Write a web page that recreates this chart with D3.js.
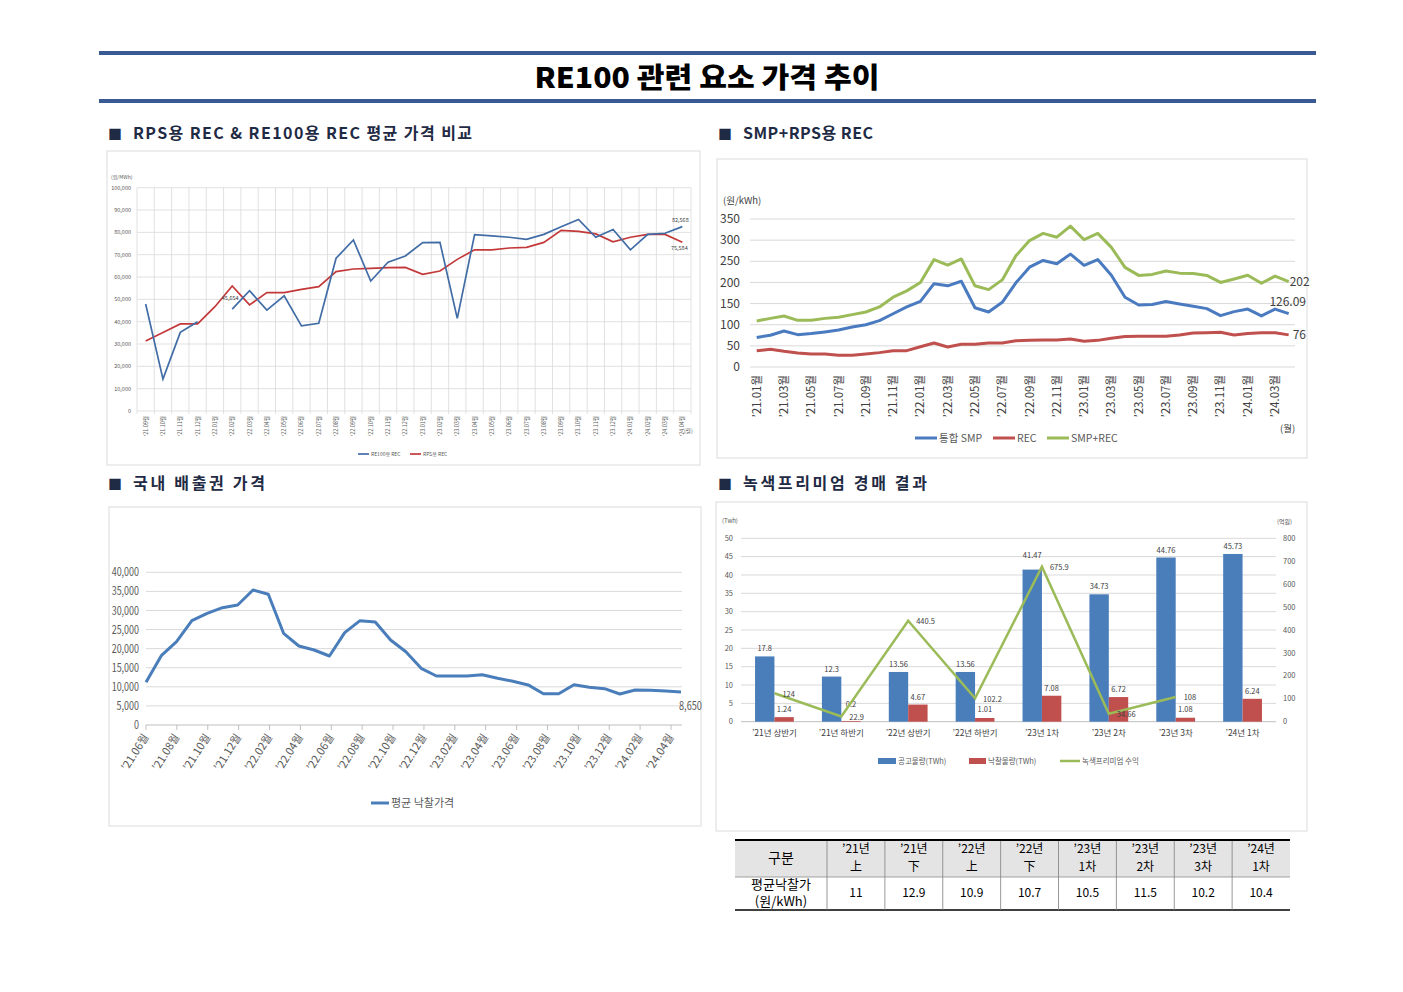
<!DOCTYPE html>
<html>
<head>
<meta charset="utf-8">
<script src="https://cdn.jsdelivr.net/npm/d3@7"></script>
<style>
body { margin: 0; background: #fff; }
svg text { font-family: 'Noto Sans CJK KR', 'Noto Sans', sans-serif; }
</style>
</head>
<body>
<svg id="page" width="1403" height="992"></svg>
<script>
// ---- RPS용 REC & RE100용 REC (원/MWh)
const A_MONTHS = ["’21.09","’21.10","’21.11","’21.12","’22.01","’22.02","’22.03","’22.04","’22.05","’22.06","’22.07","’22.08",
    "’22.09","’22.10","’22.11","’22.12","’23.01","’23.02","’23.03","’23.04","’23.05","’23.06","’23.07","’23.08",
    "’23.09","’23.10","’23.11","’23.12","’24.01","’24.02","’24.03","’24.04"]
const A_RE100 = [47900, 14300, 35200, 40000, null, 45654, 53900, 45200, 51600, 38100, 39300, 68400,
    76600, 58200, 66600, 69400, 75400, 75500, 41500, 79000, 78400, 77800, 76900, 79100,
    82500, 85800, 77800, 81300, 72200, 79100, 79600, 82568]
const A_RPS = [31300, 35200, 39000, 39000, 46700, 56000, 47500, 53000, 53000, 54500, 55700, 62400,
    63600, 63900, 64200, 64300, 61200, 62700, 67900, 72200, 72200, 73000, 73300, 75500,
    80900, 80400, 79300, 75800, 77800, 79100, 79100, 75584]

// ---- SMP + RPS용 REC (원/kWh)
const B_MONTHS = ["’21.01","’21.02","’21.03","’21.04","’21.05","’21.06","’21.07","’21.08","’21.09","’21.10","’21.11","’21.12",
    "’22.01","’22.02","’22.03","’22.04","’22.05","’22.06","’22.07","’22.08","’22.09","’22.10","’22.11","’22.12",
    "’23.01","’23.02","’23.03","’23.04","’23.05","’23.06","’23.07","’23.08","’23.09","’23.10","’23.11","’23.12",
    "’24.01","’24.02","’24.03","’24.04"]
const B_SMP = [70, 75, 85, 76.5, 79, 83, 87.5, 94.6, 100, 109.6, 126, 142,
    155, 197, 192, 202.7, 140, 130, 153, 199, 236, 252, 244, 267,
    240.5, 254, 217, 165, 146.7, 148, 155, 149, 143.5, 138, 121.5, 131,
    137, 120.7, 137, 126.09]
const B_REC = [38.6, 41.8, 37, 33, 30.8, 30.8, 27.6, 27.6, 30.8, 34, 38.6, 38.6,
    48, 56.8, 47.3, 53.6, 53.6, 56.8, 56.8, 62, 63, 64, 64, 66,
    61, 63, 68, 72, 72.5, 72.5, 73, 75.7, 80.4, 81, 82, 75.7,
    79, 81, 81, 76]
const B_SUM = [108.8, 115, 120.7, 110.4, 110.4, 115, 117.5, 123.8, 130, 142, 165, 180,
    200, 254, 241, 255.5, 192, 183, 206, 263, 299, 316, 307, 333,
    301, 316, 283, 235.5, 216.6, 219, 227, 222, 221, 216.6, 200, 208,
    217, 198, 215, 202]

// ---- 국내 배출권 가격 (월별 평균 낙찰가격)
const C_PRICE = [11180, 18160, 21830, 27330, 29260, 30740, 31440, 35370, 34240, 24020, 20700, 19650,
    18080, 24180, 27330, 26990, 22270, 19200, 14850, 12840, 12840, 12840, 13180, 12230,
    11450, 10500, 8200, 8200, 10560, 9880, 9510, 8120, 9170, 9090, 8900, 8650]
const C_TICKS = ["’21.06월","’21.08월","’21.10월","’21.12월","’22.02월","’22.04월","’22.06월","’22.08월","’22.10월",
    "’22.12월","’23.02월","’23.04월","’23.06월","’23.08월","’23.10월","’23.12월","’24.02월","’24.04월"]

// ---- 녹색프리미엄 경매 결과
const D_ROUNDS = ["’21년 상반기","’21년 하반기","’22년 상반기","’22년 하반기","’23년 1차","’23년 2차","’23년 3차","’24년 1차"]
const D_OFFER = [17.8, 12.3, 13.56, 13.56, 41.47, 34.73, 44.76, 45.73]
const D_WON = [1.24, 0.2, 4.67, 1.01, 7.08, 6.72, 1.08, 6.24]
const D_REVENUE = [124, 22.9, 440.5, 102.2, 675.9, 34.66, 108, null]

// ---- 평균낙찰가 표
const T_HEAD1 = ["’21년","’21년","’22년","’22년","’23년","’23년","’23년","’24년"]
const T_HEAD2 = ["上","下","上","下","1차","2차","3차","1차"]
const T_VALUES = [11, 12.9, 10.9, 10.7, 10.5, 11.5, 10.2, 10.4]

const GRID = '#d9d9d9'
const AXIS_TEXT = '#595959'
const NAVY = '#3a5a94'

var svg = d3.select('#page')

function box(x, y, w, h) {
    svg.append('rect')
        .attr('x', x).attr('y', y)
        .attr('width', w).attr('height', h)
        .attr('fill', 'none')
        .attr('stroke', '#dcdcdc')
}

function heading(x, y, label, len) {
    svg.append('text').attr('x', x).attr('y', y)
        .attr('font-size', 14).attr('fill', '#1f2a44').text('■')
    svg.append('text').attr('x', x + 25).attr('y', y)
        .attr('font-size', 16).attr('font-weight', 700).attr('fill', '#1f2a44')
        .attr('textLength', len).attr('lengthAdjust', 'spacing')
        .text(label)
}

function legendLine(g, x, y, w, color, width, label, size) {
    g.append('line').attr('x1', x).attr('x2', x + w).attr('y1', y).attr('y2', y)
        .attr('stroke', color).attr('stroke-width', width)
    g.append('text').attr('x', x + w + 2).attr('y', y).attr('dy', '0.35em')
        .attr('font-size', size).attr('fill', AXIS_TEXT).text(label)
}

function drawTitle() {
    svg.append('rect').attr('x', 99).attr('y', 51).attr('width', 1217).attr('height', 4).attr('fill', NAVY)
    svg.append('rect').attr('x', 99).attr('y', 99).attr('width', 1217).attr('height', 4).attr('fill', NAVY)
    svg.append('text')
        .attr('x', 707).attr('y', 88)
        .attr('text-anchor', 'middle')
        .attr('font-size', 28).attr('font-weight', 900)
        .attr('textLength', 345).attr('lengthAdjust', 'spacingAndGlyphs')
        .text('RE100 관련 요소 가격 추이')

    heading(108, 139, 'RPS용 REC & RE100용 REC 평균 가격 비교', 339)
    heading(718, 139, 'SMP+RPS용 REC', 130)
    heading(108, 489, '국내 배출권 가격', 132)
    heading(718, 489, '녹색프리미엄 경매 결과', 184)
}

function drawRecChart() {
    box(107, 151, 593, 314)
    var g = svg.append('g')
    var x = d3.scaleBand().domain(A_MONTHS).range([137, 691])
    var y = d3.scaleLinear().domain([0, 100000]).range([411, 187.7])
    var cx = d => x(d) + x.bandwidth() / 2

    g.selectAll('.hgrid').data(y.ticks(10)).enter().append('line')
        .attr('x1', 137).attr('x2', 691)
        .attr('y1', d => y(d)).attr('y2', d => y(d))
        .attr('stroke', GRID).attr('stroke-width', 0.8)
    g.selectAll('.vgrid').data(A_MONTHS.concat([null])).enter().append('line')
        .attr('x1', d => d ? x(d) : 691).attr('x2', d => d ? x(d) : 691)
        .attr('y1', y(100000)).attr('y2', y(0) + 3)
        .attr('stroke', GRID).attr('stroke-width', 0.8)

    g.selectAll('.ylab').data(y.ticks(10)).enter().append('text')
        .attr('x', 131).attr('y', d => y(d)).attr('dy', '0.35em')
        .attr('text-anchor', 'end').attr('font-size', 5.5).attr('fill', AXIS_TEXT)
        .text(d3.format(','))
    g.append('text').attr('x', 111).attr('y', 179).attr('font-size', 5).attr('fill', AXIS_TEXT).text('(원/MWh)')

    g.selectAll('.xlab').data(A_MONTHS).enter().append('text')
        .attr('transform', d => 'translate(' + (cx(d) + 2) + ',416) rotate(-90)')
        .attr('text-anchor', 'end').attr('font-size', 5.5).attr('fill', AXIS_TEXT)
        .text(d => d + '월')
    g.append('text').attr('x', 684).attr('y', 433).attr('font-size', 5.5).attr('fill', AXIS_TEXT).text('(월)')

    var line = d3.line()
        .defined(d => d.v != null)
        .x(d => cx(d.m)).y(d => y(d.v))
    var series = [
        { values: A_RPS, color: '#c3393a' },
        { values: A_RE100, color: '#416ca6' }
    ]
    series.forEach(s => {
        g.append('path')
            .datum(A_MONTHS.map((m, i) => ({ m: m, v: s.values[i] })))
            .attr('d', line)
            .attr('fill', 'none').attr('stroke', s.color).attr('stroke-width', 1.7)
    })

    var last = A_MONTHS.length - 1
    g.append('text').attr('x', cx(A_MONTHS[5]) - 2).attr('y', y(A_RE100[5]) - 9)
        .attr('text-anchor', 'middle').attr('font-size', 5.5).attr('fill', '#404040')
        .text(d3.format(',')(A_RE100[5]))
    g.append('text').attr('x', cx(A_MONTHS[last]) - 2).attr('y', y(A_RE100[last]) - 5)
        .attr('text-anchor', 'middle').attr('font-size', 5.5).attr('fill', '#404040')
        .text(d3.format(',')(A_RE100[last]))
    g.append('text').attr('x', cx(A_MONTHS[last]) - 3).attr('y', y(A_RPS[last]) + 8)
        .attr('text-anchor', 'middle').attr('font-size', 5.5).attr('fill', '#404040')
        .text(d3.format(',')(A_RPS[last]))

    legendLine(g, 358, 454, 11, '#416ca6', 1.7, 'RE100용 REC', 5)
    legendLine(g, 410, 454, 11, '#c3393a', 1.7, 'RPS용 REC', 5)
}

function drawSmpChart() {
    box(717, 159, 590, 299)
    var g = svg.append('g')
    var x = d3.scalePoint().domain(B_MONTHS).range([756.7, 1288.7])
    var y = d3.scaleLinear().domain([0, 350]).range([367, 219])
    var ticks = d3.range(0, 351, 50)

    g.selectAll('.hgrid').data(ticks).enter().append('line')
        .attr('x1', 750).attr('x2', 1295)
        .attr('y1', d => y(d)).attr('y2', d => y(d))
        .attr('stroke', GRID)
    g.selectAll('.ylab').data(ticks).enter().append('text')
        .attr('x', 740).attr('y', d => y(d)).attr('dy', '0.35em')
        .attr('text-anchor', 'end').attr('font-size', 12).attr('fill', '#404040')
        .text(d => d)
    g.append('text').attr('x', 723).attr('y', 204).attr('font-size', 9.5).attr('fill', '#404040').text('(원/kWh)')

    g.selectAll('.xlab').data(B_MONTHS.filter((m, i) => i % 2 == 0)).enter().append('text')
        .attr('transform', d => 'translate(' + (x(d) + 4) + ',375) rotate(-90)')
        .attr('text-anchor', 'end').attr('font-size', 11.5).attr('fill', '#404040')
        .text(d => d + '월')
    g.append('text').attr('x', 1280).attr('y', 432).attr('font-size', 9.5).attr('fill', '#404040').text('(월)')

    var series = [
        { values: B_SUM, color: '#9bbb59', name: 'SMP+REC' },
        { values: B_SMP, color: '#4a7abf', name: '통합 SMP' },
        { values: B_REC, color: '#c0504d', name: 'REC' }
    ]
    var line = d3.line().x(d => x(d.m)).y(d => y(d.v))
    series.forEach(s => {
        g.append('path')
            .datum(B_MONTHS.map((m, i) => ({ m: m, v: s.values[i] })))
            .attr('d', line)
            .attr('fill', 'none').attr('stroke', s.color).attr('stroke-width', 3)
            .attr('stroke-linejoin', 'round')
    })

    var last = B_MONTHS.length - 1
    var lx = x(B_MONTHS[last])
    g.append('text').attr('x', lx + 1).attr('y', y(B_SUM[last])).attr('dy', '0.38em')
        .attr('font-size', 12).attr('fill', '#404040').text(B_SUM[last])
    g.append('text').attr('x', lx - 1).attr('y', y(B_SMP[last]) - 8)
        .attr('text-anchor', 'middle').attr('font-size', 12).attr('fill', '#404040').text(B_SMP[last])
    g.append('text').attr('x', lx + 4).attr('y', y(B_REC[last])).attr('dy', '0.38em')
        .attr('font-size', 12).attr('fill', '#404040').text(B_REC[last])

    legendLine(g, 915, 438, 22, '#4a7abf', 3, '통합 SMP', 10.5)
    legendLine(g, 993, 438, 22, '#c0504d', 3, 'REC', 10.5)
    legendLine(g, 1047, 438, 22, '#9bbb59', 3, 'SMP+REC', 10.5)
}

function drawCarbonChart() {
    box(109, 507, 592, 319)
    var g = svg.append('g')
    var x = d3.scaleLinear().domain([0, C_PRICE.length - 1]).range([146, 681])
    var xTick = d3.scaleLinear().domain([0, C_TICKS.length - 1]).range([146, 671])
    var y = d3.scaleLinear().domain([0, 40000]).range([725, 572.3])
    var ticks = d3.range(0, 40001, 5000)

    g.selectAll('.hgrid').data(ticks).enter().append('line')
        .attr('x1', 146).attr('x2', 682)
        .attr('y1', d => y(d)).attr('y2', d => y(d))
        .attr('stroke', d => d == 0 ? '#bfbfbf' : GRID)
    // narrow axis numbers, as in the source
    g.selectAll('.ylab').data(ticks).enter().append('text')
        .attr('transform', d => 'translate(139,' + y(d) + ') scale(0.78,1)')
        .attr('dy', '0.35em')
        .attr('text-anchor', 'end').attr('font-size', 11.5).attr('fill', AXIS_TEXT)
        .text(d3.format(','))

    g.selectAll('.tick').data(C_TICKS).enter().append('line')
        .attr('x1', (d, i) => xTick(i)).attr('x2', (d, i) => xTick(i))
        .attr('y1', 725).attr('y2', 730)
        .attr('stroke', '#bfbfbf')
    g.selectAll('.xlab').data(C_TICKS).enter().append('text')
        .attr('transform', (d, i) => 'translate(' + (xTick(i) + 3) + ',737) rotate(-58)')
        .attr('text-anchor', 'end').attr('font-size', 11).attr('fill', AXIS_TEXT)
        .text(d => d)

    g.append('path')
        .datum(C_PRICE)
        .attr('d', d3.line().x((d, i) => x(i)).y(d => y(d)))
        .attr('fill', 'none').attr('stroke', '#4a7ebb').attr('stroke-width', 3)
        .attr('stroke-linejoin', 'round')

    var last = C_PRICE.length - 1
    g.append('text')
        .attr('transform', 'translate(' + (x(last) - 2) + ',' + (y(C_PRICE[last]) + 18) + ') scale(0.8,1)')
        .attr('font-size', 11.5).attr('fill', AXIS_TEXT)
        .text(d3.format(',')(C_PRICE[last]))

    legendLine(g, 371, 803, 18, '#4a7ebb', 3, '평균 낙찰가격', 11)
}

function drawPremiumChart() {
    box(716, 502, 591, 329)
    var g = svg.append('g')
    var x0 = d3.scaleBand().domain(D_ROUNDS).range([741, 1276])
    var bw = x0.bandwidth()
    var x1 = d3.scaleBand().domain(['offer', 'won']).range([bw * 0.21, bw * 0.79])
    var y = d3.scaleLinear().domain([0, 50]).range([721.7, 538.3])
    var y2 = d3.scaleLinear().domain([0, 800]).range([721.7, 538.3])

    g.selectAll('.hgrid').data(d3.range(0, 51, 5)).enter().append('line')
        .attr('x1', 741).attr('x2', 1276)
        .attr('y1', d => y(d)).attr('y2', d => y(d))
        .attr('stroke', d => d == 0 ? '#bfbfbf' : GRID)
    g.selectAll('.ylab').data(d3.range(0, 51, 5)).enter().append('text')
        .attr('x', 733).attr('y', d => y(d)).attr('dy', '0.35em')
        .attr('text-anchor', 'end').attr('font-size', 7.5).attr('fill', AXIS_TEXT)
        .text(d => d)
    g.selectAll('.y2lab').data(d3.range(0, 801, 100)).enter().append('text')
        .attr('x', 1283).attr('y', d => y2(d)).attr('dy', '0.35em')
        .attr('font-size', 7.5).attr('fill', AXIS_TEXT)
        .text(d => d)
    g.append('text').attr('x', 722).attr('y', 523).attr('font-size', 6).attr('fill', AXIS_TEXT).text('(Twh)')
    g.append('text').attr('x', 1277).attr('y', 524).attr('font-size', 6).attr('fill', AXIS_TEXT).text('(억원)')

    g.selectAll('.xlab').data(D_ROUNDS).enter().append('text')
        .attr('x', d => x0(d) + bw / 2).attr('y', 736)
        .attr('text-anchor', 'middle').attr('font-size', 8.5).attr('fill', '#404040')
        .text(d => d)

    // bar value label: above the bar, but lifted clear of a revenue label sitting just below it
    function barLabelY(v, i) {
        var ly = Math.min(y(v) - 5, 712)
        var rv = D_REVENUE[i]
        if (rv != null && y2(rv) > ly - 6) ly = Math.min(ly, y2(rv) - 9)
        return ly
    }

    var bars = [
        { key: 'offer', values: D_OFFER, color: '#4a7ebb' },
        { key: 'won', values: D_WON, color: '#c0504d' }
    ]
    bars.forEach(s => {
        g.selectAll('.bar-' + s.key).data(D_ROUNDS).enter().append('rect')
            .attr('x', d => x0(d) + x1(s.key))
            .attr('y', (d, i) => y(s.values[i]))
            .attr('width', x1.bandwidth())
            .attr('height', (d, i) => y(0) - y(s.values[i]))
            .attr('fill', s.color)
        g.selectAll('.lab-' + s.key).data(D_ROUNDS).enter().append('text')
            .attr('x', d => x0(d) + x1(s.key) + x1.bandwidth() / 2)
            .attr('y', (d, i) => barLabelY(s.values[i], i))
            .attr('text-anchor', 'middle').attr('font-size', 7.5).attr('fill', '#404040')
            .text((d, i) => s.values[i])
    })

    var pts = D_ROUNDS.map((r, i) => ({ r: r, v: D_REVENUE[i] })).filter(d => d.v != null)
    g.append('path')
        .datum(pts)
        .attr('d', d3.line().x(d => x0(d.r) + bw / 2).y(d => y2(d.v)))
        .attr('fill', 'none').attr('stroke', '#9bbb59').attr('stroke-width', 2.5)
    g.selectAll('.revlab').data(pts).enter().append('text')
        .attr('x', d => x0(d.r) + bw / 2 + 8).attr('y', d => y2(d.v)).attr('dy', '0.45em')
        .attr('font-size', 7.5).attr('fill', '#404040')
        .text(d => d.v)

    // legend
    g.append('rect').attr('x', 878).attr('y', 758).attr('width', 18).attr('height', 6).attr('fill', '#4a7ebb')
    g.append('text').attr('x', 898).attr('y', 761).attr('dy', '0.35em').attr('font-size', 7.5).attr('fill', AXIS_TEXT).text('공고물량(TWh)')
    g.append('rect').attr('x', 969).attr('y', 758).attr('width', 17).attr('height', 6).attr('fill', '#c0504d')
    g.append('text').attr('x', 988).attr('y', 761).attr('dy', '0.35em').attr('font-size', 7.5).attr('fill', AXIS_TEXT).text('낙찰물량(TWh)')
    legendLine(g, 1060, 761, 20, '#9bbb59', 2.5, '녹색프리미엄 수익', 7.5)
}

function drawTable() {
    var g = svg.append('g')
    var cols = d3.scaleBand().domain(d3.range(T_VALUES.length)).range([827, 1290])
    var cw = cols.bandwidth()

    g.append('rect').attr('x', 735).attr('y', 840).attr('width', 555).attr('height', 37).attr('fill', '#e4e4e4')
    g.append('line').attr('x1', 735).attr('x2', 1290).attr('y1', 840).attr('y2', 840).attr('stroke', '#000').attr('stroke-width', 2)
    g.append('line').attr('x1', 735).attr('x2', 1290).attr('y1', 877).attr('y2', 877).attr('stroke', '#8c8c8c').attr('stroke-width', 0.8)
    g.append('line').attr('x1', 735).attr('x2', 1290).attr('y1', 910).attr('y2', 910).attr('stroke', '#000').attr('stroke-width', 1.5)
    g.selectAll('.vline').data(d3.range(T_VALUES.length)).enter().append('line')
        .attr('x1', d => cols(d)).attr('x2', d => cols(d))
        .attr('y1', 841).attr('y2', 910)
        .attr('stroke', '#7f7f7f').attr('stroke-width', 0.8)

    g.append('text').attr('x', 781).attr('y', 858.5).attr('dy', '0.35em')
        .attr('text-anchor', 'middle').attr('font-size', 14).text('구분')
    g.append('text').attr('x', 781).attr('y', 884.5).attr('dy', '0.35em')
        .attr('text-anchor', 'middle').attr('font-size', 13).text('평균낙찰가')
    g.append('text').attr('x', 781).attr('y', 901.5).attr('dy', '0.35em')
        .attr('text-anchor', 'middle').attr('font-size', 13).text('(원/kWh)')

    g.selectAll('.h1').data(T_HEAD1).enter().append('text')
        .attr('x', (d, i) => cols(i) + cw / 2).attr('y', 848.5).attr('dy', '0.35em')
        .attr('text-anchor', 'middle').attr('font-size', 12).text(d => d)
    g.selectAll('.h2').data(T_HEAD2).enter().append('text')
        .attr('x', (d, i) => cols(i) + cw / 2).attr('y', 867).attr('dy', '0.35em')
        .attr('text-anchor', 'middle').attr('font-size', 12).text(d => d)
    g.selectAll('.val').data(T_VALUES).enter().append('text')
        .attr('x', (d, i) => cols(i) + cw / 2).attr('y', 893).attr('dy', '0.35em')
        .attr('text-anchor', 'middle').attr('font-size', 12).text(d => d)
}

drawTitle()
drawRecChart()
drawSmpChart()
drawCarbonChart()
drawPremiumChart()
drawTable()
</script>
</body>
</html>
